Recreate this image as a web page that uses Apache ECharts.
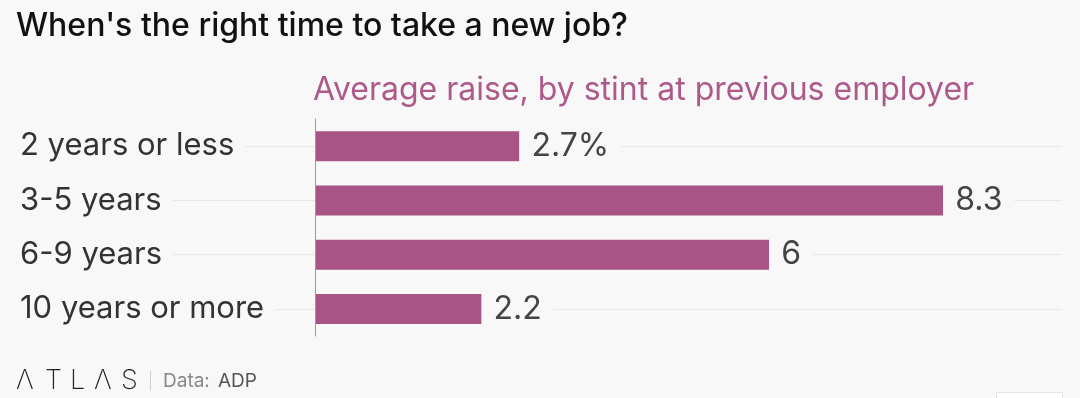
<!DOCTYPE html>
<html><head><meta charset="utf-8">
<script src="https://cdn.jsdelivr.net/npm/echarts@6/dist/echarts.min.js"></script>
<style>html,body{margin:0;padding:0;background:#f8f8f8}#c{width:1080px;height:398px}</style>
</head><body><div id="c"></div>
<script>
const categories = ['2 years or less', '3-5 years', '6-9 years', '10 years or more'];
const raises = [2.7, 8.3, 6, 2.2];
const titleText = "When's the right time to take a new job?";
const subtitleText = 'Average raise, by stint at previous employer';
const FONT = 'Inter, "Open Sans", sans-serif';
const BG = '#f8f8f8';
const chart = echarts.init(document.getElementById('c'));
const logoLetters = [['Λ', 16], ['T', 45], ['L', 70], ['Λ', 94], ['S', 121]];
chart.setOption({
  backgroundColor: BG,
  animation: false,
  grid: { left: 20, right: 18, top: 119, bottom: 62, outerBoundsMode: 'none', containLabel: false },
  xAxis: { type: 'value', min: -3.9, max: 9.87, show: false },
  yAxis: [
    {
      type: 'category', data: categories, inverse: true, z: 3, position: 'left',
      axisLine: { show: false, onZero: false },
      axisTick: { show: false },
      splitLine: { show: false },
      axisLabel: { inside: true, align: 'left', margin: 0, fontFamily: FONT, fontSize: 31, color: '#333',
        backgroundColor: BG, padding: [2, 11, 2, 0] }
    },
    {
      type: 'category', data: categories, inverse: true, z: 3,
      axisLine: { show: true, onZero: true, lineStyle: { color: '#9a9a9a', width: 1 } },
      axisTick: { show: false },
      axisLabel: { show: false },
      splitLine: { show: false }
    }
  ],
  series: [
    { type: 'line', data: [], z: 0, silent: true,
      markLine: { z: 1, silent: true, symbol: 'none', label: { show: false },
        lineStyle: { color: '#e8e8e8', width: 1, type: 'solid' },
        data: categories.map(c => ({ yAxis: c })) } },
    { type: 'bar', data: raises, barWidth: 30, z: 2,
      itemStyle: { color: '#a85486' },
      label: { show: true, position: 'right', distance: 0, fontFamily: FONT, fontSize: 32, color: '#444',
        backgroundColor: BG, padding: [2, 12, 2, 12],
        formatter: p => p.dataIndex === 0 ? p.value + '%' : String(p.value) } }
  ],
  graphic: [
    { type: 'text', x: 16, y: 26, style: { text: titleText, font: '500 32px ' + FONT, fill: '#111', verticalAlign: 'middle' } },
    { type: 'text', x: 313, y: 90, style: { text: subtitleText, font: '400 32px ' + FONT, fill: '#ad5a8b', verticalAlign: 'middle' } },
    ...logoLetters.map(([ch, x]) => ({ type: 'text', x: x, y: 381, style: { text: ch, font: '200 27px ' + FONT, fill: '#222', verticalAlign: 'middle' } })),
    { type: 'rect', shape: { x: 150, y: 371, width: 1, height: 20 }, style: { fill: '#d0d0d0' } },
    { type: 'text', x: 163, y: 381, style: { text: 'Data:', font: '400 19px ' + FONT, fill: '#888', verticalAlign: 'middle' } },
    { type: 'text', x: 218, y: 381, style: { text: 'ADP', font: '400 19px ' + FONT, fill: '#555', verticalAlign: 'middle' } },
    { type: 'rect', shape: { x: 996.5, y: 392.5, width: 66, height: 12 }, style: { fill: '#ffffff', stroke: '#e4e4e4', lineWidth: 1 } }
  ]
});
</script></body></html>
